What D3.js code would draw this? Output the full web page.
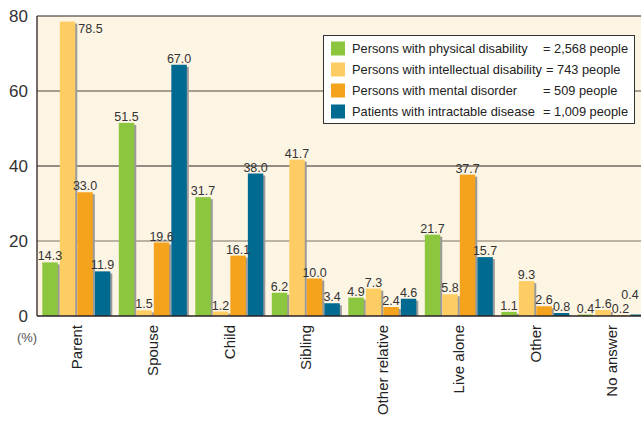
<!DOCTYPE html>
<html><head><meta charset="utf-8">
<script src="https://cdn.jsdelivr.net/npm/d3@7"></script>
<style>body{margin:0;background:#fff;}svg{display:block;font-family:"Liberation Sans",Arial,sans-serif;}</style>
</head><body><svg id="c" width="641" height="421"></svg>
<script>
const categories = ["Parent","Spouse","Child","Sibling","Other relative","Live alone","Other","No answer"];
const seriesNames = ["Persons with physical disability","Persons with intellectual disability","Persons with mental disorder","Patients with intractable disease"];
const seriesCounts = ["= 2,568 people","= 743 people","= 509 people","= 1,009 people"];
const physical     = [14.3, 51.5, 31.7, 6.2, 4.9, 21.7, 1.1, 0.4];
const intellectual = [78.5, 1.5, 1.2, 41.7, 7.3, 5.8, 9.3, 1.6];
const mental       = [33.0, 19.6, 16.1, 10.0, 2.4, 37.7, 2.6, 0.2];
const intractable  = [11.9, 67.0, 38.0, 3.4, 4.6, 15.7, 0.8, 0.4];
const yTicks = [0, 20, 40, 60, 80];
const colors = ["#8cc63f","#fdcd64","#f5a21d","#006a91"];

const series = [physical, intellectual, mental, intractable];
const svg = d3.select("#c");
const L = 37, T = 16, B = 316;
const x0 = d3.scaleBand().domain(categories).range([L, L + 8*76.5]).padding(0);
const x1 = d3.scaleBand().domain(d3.range(4)).range([5.3, 5.3 + 4*17]).paddingInner(2/17).paddingOuter(0);
const y = d3.scaleLinear().domain([0, 80]).range([B, T]);

// plot background
svg.append("rect").attr("x", L).attr("y", T).attr("width", 641 - L).attr("height", B - T).attr("fill", "#fdf5e3");

// gridlines
const gridColor = {20:"#7d7266",40:"#2b2222",60:"#8a7f73",80:"#2b2222"};
svg.append("g").selectAll("line").data(yTicks.filter(d => d > 0)).join("line")
  .attr("x1", L).attr("x2", 641).attr("y1", d => y(d)).attr("y2", d => y(d))
  .attr("stroke", d => gridColor[d]).attr("stroke-width", d => d === 60 ? 1.5 : 1.2);

// bars
const groups = svg.append("g").selectAll("g").data(categories).join("g")
  .attr("transform", d => `translate(${x0(d)},0)`);
series.forEach((vals, si) => {
  groups.append("rect")
    .attr("x", (d, i) => x1(si) + 2).attr("y", (d, i) => y(vals[i]) + 2)
    .attr("width", x1.bandwidth()).attr("height", (d, i) => Math.max(0, B - y(vals[i]) - 2))
    .attr("fill", "#9a9a9a");
  groups.append("rect")
    .attr("x", x1(si)).attr("y", (d, i) => y(vals[i]))
    .attr("width", x1.bandwidth()).attr("height", (d, i) => B - y(vals[i]))
    .attr("fill", colors[si]);
});
// value labels
function clamped(d, si) {
  const cx = x1(si) + x1.bandwidth()/2;
  return x0(d) + cx + 10 > 640;
}
series.forEach((vals, si) => {
  groups.append("text")
    .attr("x", (d, i) => {
      if (vals[i] > 75) return x1(si) + x1.bandwidth() + 3;
      const cx = x1(si) + x1.bandwidth()/2;
      return clamped(d, si) ? 640 - 10 - x0(d) : cx;
    })
    .attr("y", (d, i) => vals[i] > 75 ? y(vals[i]) + 11 : y(vals[i]) - 2 - (clamped(d, si) ? 14 : 0))
    .attr("text-anchor", (d, i) => vals[i] > 75 ? "start" : "middle")
    .attr("font-size", 12.5).attr("fill", "#333")
    .text((d, i) => vals[i].toFixed(1));
});

// axes lines
svg.append("line").attr("x1", L).attr("x2", L).attr("y1", T).attr("y2", B).attr("stroke", "#2b2222").attr("stroke-width", 1.3);
svg.append("line").attr("x1", L).attr("x2", 641).attr("y1", B).attr("y2", B).attr("stroke", "#2b2222").attr("stroke-width", 1.5);

// y tick labels
svg.append("g").selectAll("text").data(yTicks).join("text")
  .attr("x", 28).attr("y", d => y(d)).attr("dy", "0.35em").attr("text-anchor", "end")
  .attr("font-size", 17).attr("fill", "#333").text(d => d);
svg.append("text").attr("x", 27).attr("y", 342).attr("text-anchor", "middle")
  .attr("font-size", 13).attr("fill", "#555").text("(%)");

// category labels
svg.append("g").selectAll("text").data(categories).join("text")
  .attr("transform", d => `translate(${x0(d) + 5.3 + 34},325) rotate(-90)`)
  .attr("text-anchor", "end").attr("dy", "0.35em")
  .attr("font-size", 15).attr("fill", "#222").text(d => d);

// legend
const lg = svg.append("g");
lg.append("rect").attr("x", 323.5).attr("y", 35.5).attr("width", 311).attr("height", 88)
  .attr("fill", "#fff").attr("stroke", "#333").attr("stroke-width", 1);
seriesNames.forEach((n, i) => {
  const cy = 48.5 + i*21;
  lg.append("rect").attr("x", 331).attr("y", cy - 7).attr("width", 14).attr("height", 14).attr("fill", colors[i]);
  lg.append("text").attr("x", 352).attr("y", cy).attr("dy", "0.35em").attr("font-size", 12.8).attr("fill", "#222").text(n);
  lg.append("text").attr("x", i === 1 ? 546 : 543).attr("y", cy).attr("dy", "0.35em").attr("font-size", 12.8).attr("fill", "#222").text(seriesCounts[i]);
});
</script></body></html>
